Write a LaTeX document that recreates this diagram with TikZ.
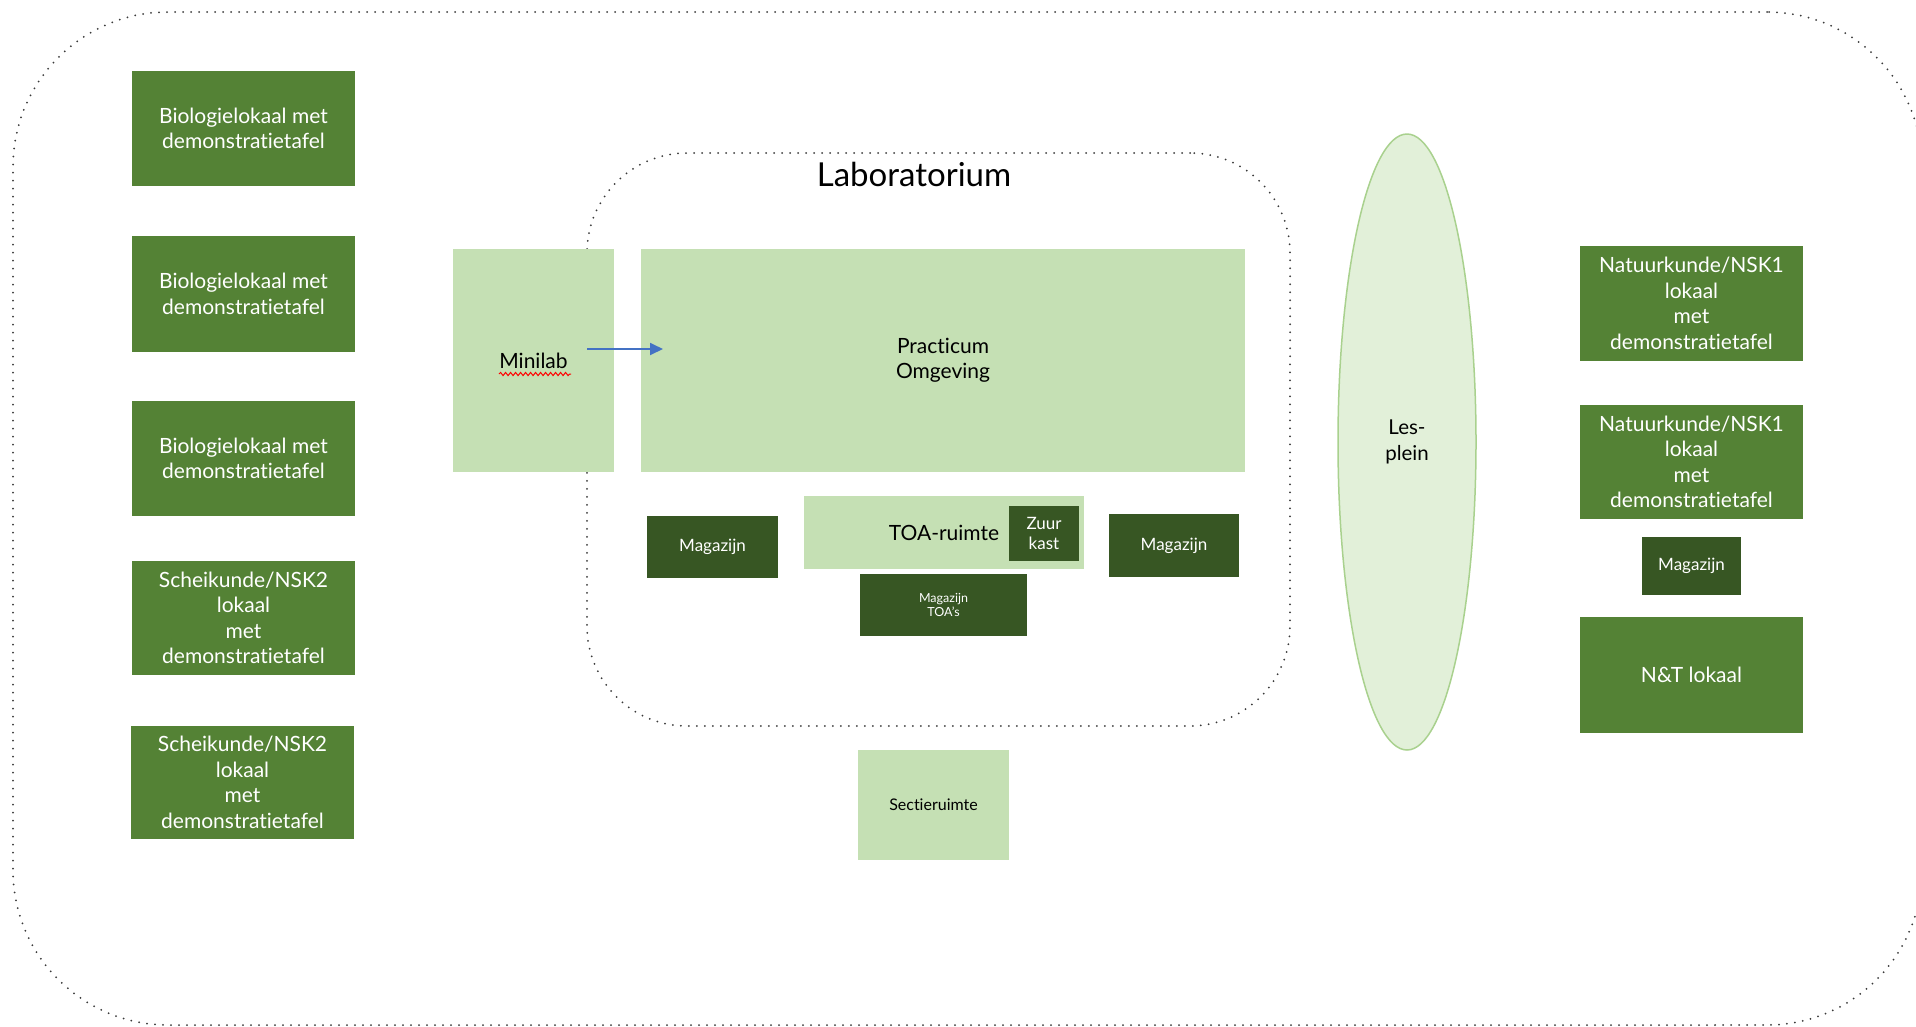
\documentclass[tikz,border=0pt]{standalone}
\usepackage{fontspec}
\setmainfont{Lato}[Ligatures=NoCommon]
\usetikzlibrary{arrows.meta,decorations.pathmorphing,shapes.geometric}
\definecolor{midgreen}{HTML}{548235}
\definecolor{darkgreen}{HTML}{375623}
\definecolor{lightgreen}{HTML}{C5E0B4}
\definecolor{palegreen}{HTML}{E2F0D9}
\definecolor{rimgreen}{HTML}{A9D18E}
\definecolor{dotgray}{HTML}{3A3A3A}
\definecolor{arrowblue}{HTML}{4472C4}
\begin{document}
\begin{tikzpicture}[x=1pt,y=-1pt,
  every node/.style={inner sep=0pt, outer sep=0pt, align=center},
  room/.style={fill=midgreen, text=white, font=\fontsize{21}{25.5}\selectfont, anchor=north west},
  store/.style={fill=darkgreen, text=white, font=\fontsize{17}{20}\selectfont, anchor=north west},
  area/.style={fill=lightgreen, text=black, font=\fontsize{21}{25}\selectfont, anchor=north west},
  dotline/.style={draw=dotgray, line width=2pt, line cap=round, dash pattern=on 0pt off 8pt},
]
\path[use as bounding box, fill=white] (0,0) rectangle (1916,1026);

% outer border and laboratorium border
\node[dotline, rounded corners=155pt, minimum width=1909pt, minimum height=1013pt, anchor=north west] (outer) at (13,12) {};
\node[dotline, rounded corners=100pt, minimum width=703pt, minimum height=573pt, anchor=north west] (lab) at (587,153) {};
\node[font=\fontsize{33}{36}\selectfont] (labtitle) at (914,174) {Laboratorium};

% left rooms
\node[room, minimum width=223pt, minimum height=115pt] (bio1) at (132,71) {Biologielokaal met\\demonstratietafel};
\node[room, minimum width=223pt, minimum height=116pt] (bio2) at (132,236) {Biologielokaal met\\demonstratietafel};
\node[room, minimum width=223pt, minimum height=115pt] (bio3) at (132,401) {Biologielokaal met\\demonstratietafel};
\node[room, minimum width=223pt, minimum height=114pt] (sk1) at (132,561) {Scheikunde/NSK2\\lokaal\\met\\demonstratietafel};
\node[room, minimum width=223pt, minimum height=113pt] (sk2) at (131,726) {Scheikunde/NSK2\\lokaal\\met\\demonstratietafel};

% laboratory contents
\node[area, minimum width=161pt, minimum height=223pt] (minilab) at (453,249) {Minilab};
\node[area, minimum width=604pt, minimum height=223pt] (practicum) at (641,249) {Practicum\\Omgeving};
\coordinate (arrowstart) at (587,349);
\coordinate (arrowend) at (663,349);
\draw[arrowblue, line width=1.8pt, -{Triangle[length=13pt,width=12pt]}] (arrowstart) -- (arrowend);
\coordinate (sq1) at (499,374);
\coordinate (sq2) at (571,374);
\draw[red, line width=1pt, decorate, decoration={snake, amplitude=1.6pt, segment length=5pt}] (sq1) -- (sq2);

\node[store, minimum width=131pt, minimum height=62pt] (mag1) at (647,516) {Magazijn};
\node[area, minimum width=280pt, minimum height=73pt] (toa) at (804,496) {TOA-ruimte};
\node[store, minimum width=70pt, minimum height=55pt] (zuur) at (1009,506) {Zuur\\kast};
\node[store, minimum width=167pt, minimum height=62pt, font=\fontsize{12.5}{14}\selectfont] (magtoa) at (860,574) {Magazijn\\TOA’s};
\node[store, minimum width=130pt, minimum height=63pt] (mag2) at (1109,514) {Magazijn};

\node[area, minimum width=151pt, minimum height=110pt, font=\fontsize{16}{18}\selectfont] (sectie) at (858,750) {Sectieruimte};

% les-plein
\node[ellipse, draw=rimgreen, fill=palegreen, line width=1.5pt, minimum width=138pt, minimum height=616pt, font=\fontsize{20.5}{26}\selectfont] (plein) at (1407,442) {Les-\\plein};

% right rooms
\node[room, minimum width=223pt, minimum height=115pt] (nk1) at (1580,246) {Natuurkunde/NSK1\\lokaal\\met\\demonstratietafel};
\node[room, minimum width=223pt, minimum height=114pt] (nk2) at (1580,405) {Natuurkunde/NSK1\\lokaal\\met\\demonstratietafel};
\node[store, minimum width=99pt, minimum height=58pt] (mag3) at (1642,537) {Magazijn};
\node[room, minimum width=223pt, minimum height=116pt] (nt) at (1580,617) {N\&T lokaal};
\end{tikzpicture}
\end{document}
